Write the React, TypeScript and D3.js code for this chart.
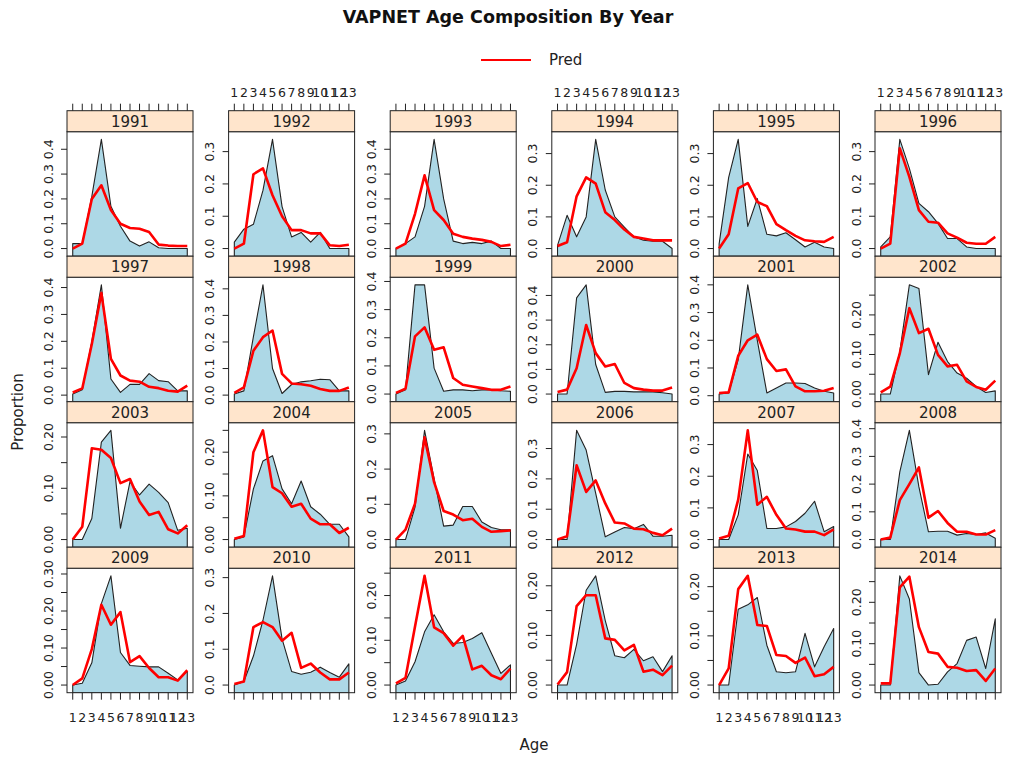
import React from "react";
import * as d3 from "d3";

// ---------- data ----------
const years: number[] = [
  1991, 1992, 1993, 1994, 1995, 1996,
  1997, 1998, 1999, 2000, 2001, 2002,
  2003, 2004, 2005, 2006, 2007, 2008,
  2009, 2010, 2011, 2012, 2013, 2014,
];

const ages: number[] = [1, 2, 3, 4, 5, 6, 7, 8, 9, 10, 11, 12, 13];
const ageTickLabels: string[] = ages.map((a) => String(a));

// observed proportions at age (one row per year, same order as years)
const observed: number[][] = [
  [0.02, 0.02, 0.21, 0.44, 0.17, 0.09, 0.03, 0.01, 0.027, 0.003, 0, 0, 0], // 1991
  [0.02, 0.06, 0.075, 0.18, 0.338, 0.13, 0.036, 0.05, 0.02, 0.05, 0, 0, 0], // 1992
  [0.0, 0.02, 0.047, 0.17, 0.44, 0.2, 0.03, 0.02, 0.025, 0.02, 0.03, 0.0, 0.0], // 1993
  [0.01, 0.105, 0.037, 0.1, 0.345, 0.185, 0.1, 0.068, 0.037, 0.026, 0.023, 0.023, 0.0], // 1994
  [0.015, 0.225, 0.345, 0.07, 0.158, 0.045, 0.04, 0.05, 0.028, 0.005, 0.02, 0.005, 0.0], // 1995
  [0.005, 0.036, 0.338, 0.248, 0.14, 0.114, 0.078, 0.031, 0.031, 0.005, 0, 0, 0], // 1996
  [0.004, 0.02, 0.2, 0.41, 0.06, 0.01, 0.04, 0.04, 0.08, 0.054, 0.05, 0.016, 0.016], // 1997
  [0.004, 0.016, 0.22, 0.415, 0.1, 0.006, 0.04, 0.05, 0.054, 0.06, 0.058, 0.016, 0.016], // 1998
  [0.0, 0.015, 0.388, 0.388, 0.092, 0.01, 0.015, 0.015, 0.012, 0.015, 0.015, 0.012, 0.01], // 1999
  [0, 0, 0.39, 0.443, 0.12, 0.007, 0.011, 0.011, 0.009, 0.009, 0.009, 0.005, 0.0], // 2000
  [0.006, 0.01, 0.13, 0.4, 0.2, 0.01, 0.028, 0.046, 0.046, 0.044, 0.028, 0.016, 0.01], // 2001
  [0, 0, 0.108, 0.276, 0.267, 0.049, 0.131, 0.082, 0.053, 0.04, 0.019, 0.004, 0.008], // 2002
  [0, 0, 0.041, 0.19, 0.213, 0.022, 0.113, 0.087, 0.108, 0.092, 0.072, 0.018, 0.022], // 2003
  [0, 0.006, 0.116, 0.18, 0.192, 0.116, 0.082, 0.134, 0.075, 0.058, 0.035, 0.035, 0.006], // 2004
  [0, 0, 0.092, 0.31, 0.173, 0.038, 0.041, 0.094, 0.094, 0.05, 0.034, 0.028, 0.028], // 2005
  [0, 0, 0.36, 0.295, 0.152, 0.009, 0.025, 0.04, 0.036, 0.05, 0.011, 0.011, 0.014], // 2006
  [0, 0, 0.078, 0.27, 0.218, 0.035, 0.035, 0.04, 0.057, 0.083, 0.121, 0.025, 0.041], // 2007
  [0, 0, 0.244, 0.394, 0.19, 0.028, 0.03, 0.03, 0.016, 0.022, 0.018, 0.024, 0.005], // 2008
  [0, 0.005, 0.06, 0.22, 0.295, 0.088, 0.053, 0.051, 0.049, 0.049, 0.032, 0.014, 0.037], // 2009
  [0, 0.01, 0.081, 0.181, 0.305, 0.129, 0.038, 0.03, 0.036, 0.05, 0.035, 0.022, 0.059], // 2010
  [0, 0.009, 0.052, 0.119, 0.157, 0.119, 0.093, 0.095, 0.104, 0.117, 0.071, 0.026, 0.045], // 2011
  [0, 0, 0.082, 0.191, 0.22, 0.13, 0.059, 0.055, 0.072, 0.049, 0.057, 0.027, 0.059], // 2012
  [0, 0, 0.154, 0.163, 0.178, 0.081, 0.027, 0.025, 0.027, 0.105, 0.037, 0.078, 0.115], // 2013
  [0, 0, 0.264, 0.208, 0.03, 0.0, 0.002, 0.032, 0.052, 0.108, 0.116, 0.04, 0.16], // 2014
];

// predicted proportions at age ("Pred")
const predicted: number[][] = [
  [0.0, 0.02, 0.2, 0.255, 0.155, 0.1, 0.083, 0.08, 0.067, 0.016, 0.012, 0.01, 0.01], // 1991
  [0.0, 0.015, 0.23, 0.248, 0.165, 0.1, 0.057, 0.057, 0.047, 0.047, 0.01, 0.008, 0.012], // 1992
  [0.0, 0.02, 0.14, 0.295, 0.155, 0.115, 0.06, 0.047, 0.04, 0.035, 0.027, 0.01, 0.015], // 1993
  [0.008, 0.02, 0.165, 0.225, 0.205, 0.115, 0.09, 0.06, 0.037, 0.032, 0.026, 0.026, 0.026], // 1994
  [0.0, 0.045, 0.19, 0.207, 0.147, 0.134, 0.077, 0.058, 0.04, 0.026, 0.023, 0.021, 0.037], // 1995
  [0.0, 0.015, 0.31, 0.222, 0.119, 0.083, 0.08, 0.047, 0.034, 0.018, 0.015, 0.015, 0.036], // 1996
  [0.01, 0.025, 0.19, 0.38, 0.135, 0.073, 0.054, 0.05, 0.031, 0.026, 0.016, 0.013, 0.035], // 1997
  [0.008, 0.029, 0.167, 0.218, 0.243, 0.08, 0.044, 0.041, 0.035, 0.023, 0.016, 0.016, 0.029], // 1998
  [0.004, 0.019, 0.205, 0.237, 0.157, 0.166, 0.057, 0.033, 0.027, 0.021, 0.015, 0.015, 0.027], // 1999
  [0.008, 0.018, 0.105, 0.28, 0.166, 0.112, 0.122, 0.045, 0.024, 0.018, 0.014, 0.014, 0.027], // 2000
  [0.01, 0.012, 0.144, 0.2, 0.22, 0.132, 0.089, 0.095, 0.034, 0.016, 0.016, 0.018, 0.028], // 2001
  [0.004, 0.019, 0.103, 0.217, 0.154, 0.165, 0.099, 0.07, 0.074, 0.032, 0.018, 0.011, 0.034], // 2002
  [0, 0.025, 0.178, 0.175, 0.159, 0.11, 0.118, 0.074, 0.048, 0.054, 0.02, 0.012, 0.028], // 2003
  [0.002, 0.008, 0.2, 0.25, 0.12, 0.106, 0.075, 0.082, 0.048, 0.035, 0.035, 0.015, 0.027], // 2004
  [0, 0.028, 0.102, 0.29, 0.163, 0.081, 0.071, 0.055, 0.059, 0.036, 0.022, 0.024, 0.026], // 2005
  [0, 0.011, 0.245, 0.157, 0.195, 0.119, 0.056, 0.053, 0.036, 0.034, 0.022, 0.014, 0.036], // 2006
  [0.003, 0.012, 0.126, 0.345, 0.11, 0.135, 0.078, 0.035, 0.032, 0.025, 0.025, 0.014, 0.032], // 2007
  [0, 0.007, 0.142, 0.2, 0.26, 0.079, 0.103, 0.06, 0.028, 0.028, 0.018, 0.018, 0.034], // 2008
  [0, 0.018, 0.097, 0.217, 0.163, 0.197, 0.062, 0.078, 0.046, 0.021, 0.021, 0.012, 0.04], // 2009
  [0.003, 0.01, 0.162, 0.176, 0.162, 0.124, 0.146, 0.048, 0.06, 0.035, 0.016, 0.016, 0.035], // 2010
  [0.004, 0.016, 0.131, 0.244, 0.129, 0.116, 0.088, 0.11, 0.035, 0.043, 0.022, 0.013, 0.037], // 2011
  [0.001, 0.026, 0.159, 0.181, 0.181, 0.094, 0.091, 0.07, 0.081, 0.027, 0.031, 0.02, 0.039], // 2012
  [0, 0.034, 0.195, 0.222, 0.122, 0.12, 0.061, 0.059, 0.045, 0.056, 0.018, 0.022, 0.037], // 2013
  [0.004, 0.004, 0.236, 0.262, 0.14, 0.08, 0.076, 0.044, 0.042, 0.034, 0.036, 0.01, 0.04], // 2014
];

// ---------- layout ----------
const W = 1018;
const H = 758;
const NCOL = 6;
const NROW = 4;
const COL_LEFT0 = 67;
const COL_STEP = 161.6;
const PANEL_W = 126;
const STRIP_TOP0 = 110.7;
const ROW_STEP = 145.5;
const STRIP_H = 21;
const X_PAD = 0.6;
const Y_PAD = 0.07;
const TICK_X = 7;
const TICK_Y = 6;

const FONT = "'DejaVu Sans', 'Liberation Sans', Arial, sans-serif";
const FILL = "#ADD8E6";
const STRIP_BG = "#FFE5CC";
const FRAME = "#222";
const TICK_FS = 12.5;

function Panel({ idx }: { idx: number }) {
  const row = Math.floor(idx / NCOL);
  const col = idx % NCOL;
  const left = COL_LEFT0 + col * COL_STEP;
  const right = left + PANEL_W;
  const stripTop = STRIP_TOP0 + row * ROW_STEP;
  const plotTop = stripTop + STRIP_H;
  const bottom = stripTop + ROW_STEP;

  const obs = observed[idx];
  const pred = predicted[idx];
  const all = [...obs, ...pred];
  const hi = d3.max(all) as number;
  const lo = d3.min(all) as number;
  const pad = Y_PAD * (hi - lo);
  const yMin = lo - pad;
  const yMax = hi + pad;

  const x = d3
    .scaleLinear()
    .domain([ages[0] - X_PAD, ages[ages.length - 1] + X_PAD])
    .range([left, right]);
  const y = d3.scaleLinear().domain([yMin, yMax]).range([bottom, plotTop]);

  const step = hi < 0.3 ? 0.05 : 0.1;
  const nT = Math.floor(yMax / step + 1e-6);
  const yTicks = d3.range(0, nT + 1).map((k) => k * step);
  const fmt = step === 0.05 ? d3.format(".2f") : d3.format(".1f");

  const line = d3
    .line<[number, number]>()
    .x((d) => x(d[0]))
    .y((d) => y(d[1]));

  const polyPts: [number, number][] = [
    [ages[0], yMin],
    ...ages.map((a, i) => [a, obs[i]] as [number, number]),
    [ages[ages.length - 1], yMin],
  ];
  const polyPath = (line(polyPts) || "") + "Z";
  const predPath = line(ages.map((a, i) => [a, pred[i]] as [number, number])) || "";

  const topAxis = row === 0;
  const bottomAxis = row === NROW - 1;
  const topLabels = topAxis && col % 2 === 1;
  const bottomLabels = bottomAxis && col % 2 === 0;

  return (
    <g>
      <defs>
        <clipPath id={`clip${idx}`}>
          <rect x={left} y={plotTop} width={PANEL_W} height={bottom - plotTop} />
        </clipPath>
      </defs>
      <g clipPath={`url(#clip${idx})`}>
        <path d={polyPath} fill={FILL} stroke="#222" strokeWidth={1.1} strokeLinejoin="round" />
        <path d={predPath} fill="none" stroke="#FF0000" strokeWidth={2.6} strokeLinejoin="round" />
      </g>
      <rect x={left} y={plotTop} width={PANEL_W} height={bottom - plotTop} fill="none" stroke={FRAME} strokeWidth={1} />
      <rect x={left} y={stripTop} width={PANEL_W} height={STRIP_H} fill={STRIP_BG} stroke={FRAME} strokeWidth={1} />
      <text x={(left + right) / 2} y={stripTop + STRIP_H / 2 + 5.5} textAnchor="middle" fontSize={15} fill="#222">
        {years[idx]}
      </text>
      {/* y axis */}
      {yTicks.map((t, k) => (
        <g key={k}>
          <line x1={left - TICK_Y} x2={left} y1={y(t)} y2={y(t)} stroke={FRAME} strokeWidth={1} />
          {(step === 0.1 || k % 2 === 0) && (
            <text
              transform={`translate(${left - 14.5},${y(t)}) rotate(-90)`}
              textAnchor="middle"
              fontSize={TICK_FS}
              fill="#222"
            >
              {fmt(t)}
            </text>
          )}
        </g>
      ))}
      {/* x axis top */}
      {topAxis &&
        ages.map((a, i) => (
          <g key={`t${i}`}>
            <line x1={x(a)} x2={x(a)} y1={stripTop} y2={stripTop - TICK_X} stroke={FRAME} strokeWidth={1} />
            {topLabels && (
              <text x={x(a)} y={stripTop - 14} textAnchor="middle" fontSize={TICK_FS} fill="#222">
                {ageTickLabels[i]}
              </text>
            )}
          </g>
        ))}
      {bottomAxis &&
        ages.map((a, i) => (
          <g key={`b${i}`}>
            <line x1={x(a)} x2={x(a)} y1={bottom} y2={bottom + TICK_X} stroke={FRAME} strokeWidth={1} />
            {bottomLabels && (
              <text x={x(a)} y={bottom + 29} textAnchor="middle" fontSize={TICK_FS} fill="#222">
                {ageTickLabels[i]}
              </text>
            )}
          </g>
        ))}
    </g>
  );
}

export default function App() {
  return (
    <svg
      width={W}
      height={H}
      style={{ position: "absolute", left: 0, top: 0, background: "#fff" }}
      fontFamily={FONT}
    >
      <rect x={0} y={0} width={W} height={H} fill="#fff" />
      <text x={508} y={23} textAnchor="middle" fontSize={17.5} fontWeight="bold" fill="#111">
        VAPNET Age Composition By Year
      </text>
      {/* legend */}
      <line x1={481} x2={531} y1={60} y2={60} stroke="#FF0000" strokeWidth={2.2} />
      <text x={549} y={65} fontSize={15} fill="#222">
        Pred
      </text>
      {years.map((_, i) => (
        <Panel key={i} idx={i} />
      ))}
      <text
        transform={`translate(23,412) rotate(-90)`}
        textAnchor="middle"
        fontSize={15}
        fill="#222"
      >
        Proportion
      </text>
      <text x={534} y={750} textAnchor="middle" fontSize={15} fill="#222">
        Age
      </text>
    </svg>
  );
}
